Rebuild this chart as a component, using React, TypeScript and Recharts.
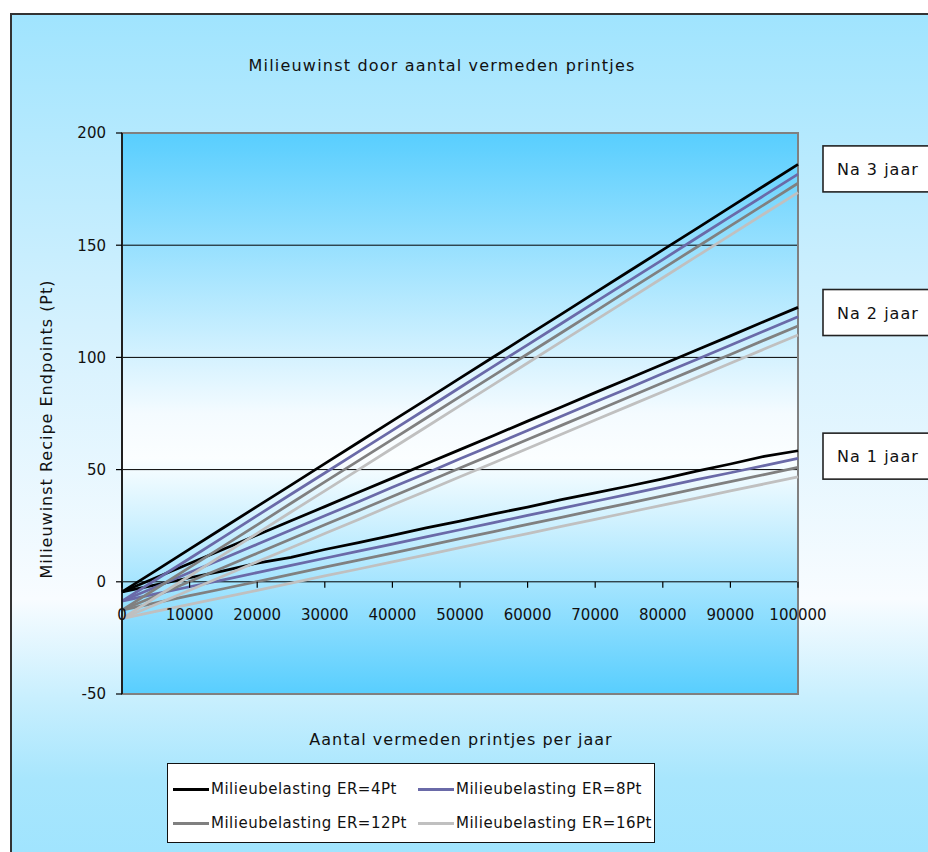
import React from 'react';
import { LineChart, Line, XAxis, YAxis, CartesianGrid, ReferenceDot, ReferenceArea, Legend } from 'recharts';

const FONT = '"DejaVu Sans", Verdana, sans-serif';

// ---- data ----
const X_VALUES = [0, 5000, 10000, 15000, 20000, 25000, 30000, 35000, 40000, 45000, 50000, 55000, 60000, 65000, 70000, 75000, 80000, 85000, 90000, 95000, 100000];
const X_TICKS = [0, 10000, 20000, 30000, 40000, 50000, 60000, 70000, 80000, 90000, 100000];
const Y_TICKS = [-50, 0, 50, 100, 150, 200];
const Y_MIN = -50;
const Y_MAX = 200;

const ER_LABELS = ['Milieubelasting ER=4Pt', 'Milieubelasting ER=8Pt', 'Milieubelasting ER=12Pt', 'Milieubelasting ER=16Pt'];
const ER_COLORS = ['#000000', '#6A6AA8', '#808080', '#C0C0C0'];

const YEAR_LABELS = ['Na 1 jaar', 'Na 2 jaar', 'Na 3 jaar'];
const YEAR_LABEL_ANCHORS = [56, 120, 184];

// Na 1 jaar
const Y1_ER4 = [-4.5, -1.4, 1.8, 4.9, 8.3, 10.9, 14.4, 17.5, 20.7, 24.0, 27.0, 30.3, 33.3, 36.6, 39.6, 42.7, 45.9, 49.3, 52.5, 55.9, 58.4];
const Y1_ER8 = [-8.6, -5.4, -2.2, 0.9, 4.1, 7.3, 10.5, 13.7, 16.8, 20.0, 23.2, 26.4, 29.6, 32.7, 35.9, 39.1, 42.3, 45.5, 48.6, 51.8, 55.0];
const Y1_ER12 = [-12.6, -9.4, -6.2, -3.1, 0.1, 3.3, 6.5, 9.7, 12.8, 16.0, 19.2, 22.4, 25.6, 28.7, 31.9, 35.1, 38.3, 41.5, 44.6, 47.8, 51.0];
const Y1_ER16 = [-16.4, -13.2, -10.1, -6.9, -3.8, -0.6, 2.6, 5.7, 8.9, 12.0, 15.2, 18.4, 21.5, 24.7, 27.8, 31.0, 34.2, 37.3, 40.5, 43.6, 46.8];
// Na 2 jaar
const Y2_ER4 = [-4.5, 1.8, 8.2, 14.5, 20.9, 27.2, 33.5, 39.9, 46.2, 52.6, 58.9, 65.2, 71.6, 77.9, 84.3, 90.6, 96.9, 103.3, 109.6, 116.0, 122.3];
const Y2_ER8 = [-8.6, -2.3, 4.1, 10.4, 16.7, 23.1, 29.4, 35.7, 42.1, 48.4, 54.8, 61.1, 67.4, 73.8, 80.1, 86.4, 92.8, 99.1, 105.4, 111.8, 118.1];
const Y2_ER12 = [-12.6, -6.3, 0.1, 6.4, 12.7, 19.1, 25.4, 31.7, 38.0, 44.4, 50.7, 57.0, 63.4, 69.7, 76.0, 82.4, 88.7, 95.0, 101.3, 107.7, 114.0];
const Y2_ER16 = [-16.4, -10.1, -3.8, 2.6, 8.9, 15.2, 21.5, 27.8, 34.2, 40.5, 46.8, 53.1, 59.4, 65.8, 72.1, 78.4, 84.7, 91.0, 97.4, 103.7, 110.0];
// Na 3 jaar
const Y3_ER4 = [-4.5, 5.0, 14.6, 24.1, 33.6, 43.1, 52.7, 62.2, 71.7, 81.2, 90.8, 100.3, 109.8, 119.3, 128.9, 138.4, 147.9, 157.4, 167.0, 176.5, 186.0];
const Y3_ER8 = [-8.6, 0.9, 10.4, 19.9, 29.5, 39.0, 48.5, 58.0, 67.5, 77.0, 86.6, 96.1, 105.6, 115.1, 124.6, 134.1, 143.6, 153.2, 162.7, 172.2, 181.7];
const Y3_ER12 = [-12.6, -3.1, 6.4, 15.9, 25.4, 35.0, 44.5, 54.0, 63.5, 73.0, 82.5, 92.0, 101.5, 111.0, 120.5, 130.1, 139.6, 149.1, 158.6, 168.1, 177.6];
const Y3_ER16 = [-16.4, -6.9, 2.6, 12.1, 21.6, 31.1, 40.5, 50.0, 59.5, 69.0, 78.5, 88.0, 97.5, 107.0, 116.5, 126.0, 135.5, 145.0, 154.5, 164.0, 173.4];

const SERIES_BY_YEAR = [
  [Y1_ER4, Y1_ER8, Y1_ER12, Y1_ER16],
  [Y2_ER4, Y2_ER8, Y2_ER12, Y2_ER16],
  [Y3_ER4, Y3_ER8, Y3_ER12, Y3_ER16],
];

const data = X_VALUES.map((x, i) => {
  const row: Record<string, number> = { x };
  SERIES_BY_YEAR.forEach((yearSeries, yi) => {
    yearSeries.forEach((s, ei) => {
      row[`y${yi + 1}_er${ei}`] = s[i];
    });
  });
  return row;
});

// ---- layout ----
const W = 928;
const H = 852;
const PLOT_TOP = 133;
const PLOT_BOTTOM = 694;
const PLOT_LEFT = 122;
const PLOT_RIGHT = 798;
const Y_AXIS_W = 80;
const X_AXIS_H = 30;

const zeroY = PLOT_TOP + ((PLOT_BOTTOM - PLOT_TOP) * (Y_MAX - 0)) / (Y_MAX - Y_MIN);

const XTick = (props: any) => {
  const { x, payload } = props;
  return (
    <g>
      <line x1={x} x2={x} y1={zeroY} y2={zeroY + 6} stroke="#000" strokeWidth={1.2} />
      <text x={x} y={zeroY + 38} textAnchor="middle" fontFamily={FONT} fontSize={15} fill="#111">
        {payload.value}
      </text>
    </g>
  );
};

const YearBox = (label: string) => (props: any) => {
  const { cx, cy } = props;
  if (cx == null || cy == null) return <g />;
  return (
    <g>
      <rect x={cx + 25} y={cy - 23} width={130} height={46} fill="#FFFFFF" stroke="#222" strokeWidth={1.6} />
      <text x={cx + 39} y={cy + 6} fontFamily={FONT} fontSize={16} letterSpacing={1} fill="#111">
        {label}
      </text>
    </g>
  );
};

const LegendContent = () => (
  <div
    style={{
      position: 'relative',
      width: 488,
      height: 80,
      background: '#FFFFFF',
      border: '1px solid #111',
      boxSizing: 'border-box',
      fontFamily: FONT,
      fontSize: 15,
      letterSpacing: 0.5,
      color: '#111',
    }}
  >
    {ER_LABELS.map((lab, i) => (
      <div
        key={lab}
        style={{
          position: 'absolute',
          left: 5 + (i % 2) * 245,
          top: i < 2 ? 15 : 49,
          height: 20,
          display: 'flex',
          alignItems: 'center',
          whiteSpace: 'nowrap',
        }}
      >
        <span style={{ display: 'inline-block', width: 36, height: 3, background: ER_COLORS[i], marginRight: 2 }} />
        <span>{lab}</span>
      </div>
    ))}
  </div>
);

export default function App() {
  const lines: React.ReactNode[] = [];
  for (let yi = 0; yi < 3; yi++) {
    for (let ei = 3; ei >= 0; ei--) {
      lines.push(
        <Line
          key={`y${yi}_${ei}`}
          type="linear"
          dataKey={`y${yi + 1}_er${ei}`}
          name={ER_LABELS[ei]}
          stroke={ER_COLORS[ei]}
          strokeWidth={2.75}
          dot={false}
          activeDot={false}
          isAnimationActive={false}
          legendType={yi === 0 ? 'line' : 'none'}
        />
      );
    }
  }

  return (
    <div style={{ position: 'fixed', left: 0, top: 0, width: W, height: H, overflow: 'hidden', background: '#FFFFFF' }}>
      <div
        style={{
          position: 'absolute',
          left: 10,
          top: 13,
          width: 960,
          height: 847,
          border: '2px solid #333',
          boxSizing: 'border-box',
          background:
            'linear-gradient(to bottom, #A0E4FE 0%, #D8F2FE 39.8%, #F8FCFF 69.3%, #C8EFFE 81.1%, #A8E6FD 90.6%, #A0E4FE 100%)',
        }}
      />
      <div
        style={{
          position: 'absolute',
          left: 0,
          width: 884,
          top: 56,
          lineHeight: '20px',
          textAlign: 'center',
          fontFamily: FONT,
          fontSize: 16,
          letterSpacing: 1.2,
          color: '#111',
          whiteSpace: 'nowrap',
        }}
      >
        Milieuwinst door aantal vermeden printjes
      </div>
      <div
        style={{
          position: 'absolute',
          left: 461 - 250,
          width: 500,
          top: 730,
          lineHeight: '20px',
          textAlign: 'center',
          fontFamily: FONT,
          fontSize: 16,
          letterSpacing: 1,
          color: '#111',
          whiteSpace: 'nowrap',
        }}
      >
        Aantal vermeden printjes per jaar
      </div>
      <div
        style={{
          position: 'absolute',
          left: 47 - 200,
          top: 429 - 10,
          width: 400,
          height: 20,
          lineHeight: '20px',
          textAlign: 'center',
          fontFamily: FONT,
          fontSize: 16,
          letterSpacing: 1,
          color: '#111',
          whiteSpace: 'nowrap',
          transform: 'rotate(-90deg)',
        }}
      >
        Milieuwinst Recipe Endpoints (Pt)
      </div>
      <div style={{ position: 'absolute', left: 0, top: 0 }}>
        <LineChart
          width={W}
          height={H}
          data={data}
          margin={{
            top: PLOT_TOP,
            right: W - PLOT_RIGHT,
            left: PLOT_LEFT - Y_AXIS_W,
            bottom: H - PLOT_BOTTOM - X_AXIS_H,
          }}
        >
          <defs>
            <linearGradient id="plotGrad" x1="0" y1="0" x2="0" y2="1">
              <stop offset="0%" stopColor="#58CEFE" />
              <stop offset="50%" stopColor="#F4FBFF" />
              <stop offset="58%" stopColor="#FBFEFF" />
              <stop offset="100%" stopColor="#58CEFE" />
            </linearGradient>
          </defs>
          <CartesianGrid
            vertical={false}
            horizontal={true}
            stroke="#000"
            strokeWidth={1}
            fill="url(#plotGrad)"
            fillOpacity={1}
          />
          <ReferenceArea
            x1={0}
            x2={100000}
            y1={Y_MIN}
            y2={Y_MAX}
            fill="none"
            fillOpacity={0}
            stroke="#808080"
            strokeWidth={2}
            ifOverflow="visible"
          />
          <XAxis
            dataKey="x"
            type="number"
            domain={[0, 100000]}
            ticks={X_TICKS}
            interval={0}
            axisLine={false}
            tickLine={false}
            tick={(p: any) => <XTick {...p} />}
            height={X_AXIS_H}
          />
          <YAxis
            type="number"
            domain={[Y_MIN, Y_MAX]}
            ticks={Y_TICKS}
            interval={0}
            width={Y_AXIS_W}
            tickSize={6}
            tickMargin={10}
            axisLine={{ stroke: '#000', strokeWidth: 1.5 }}
            tickLine={{ stroke: '#000', strokeWidth: 1.2 }}
            tick={{ fill: '#111', fontSize: 15, fontFamily: FONT }}
            allowDataOverflow
          />
          {lines}
          {YEAR_LABELS.map((lab, i) => (
            <ReferenceDot
              key={lab}
              x={100000}
              y={YEAR_LABEL_ANCHORS[i]}
              r={0}
              ifOverflow="visible"
              shape={YearBox(lab)}
            />
          ))}
          <Legend
            layout="vertical"
            align="center"
            verticalAlign="middle"
            content={() => <LegendContent />}
            wrapperStyle={{ position: 'absolute', left: 167, top: 763, width: 488, height: 80 }}
          />
        </LineChart>
      </div>
    </div>
  );
}
